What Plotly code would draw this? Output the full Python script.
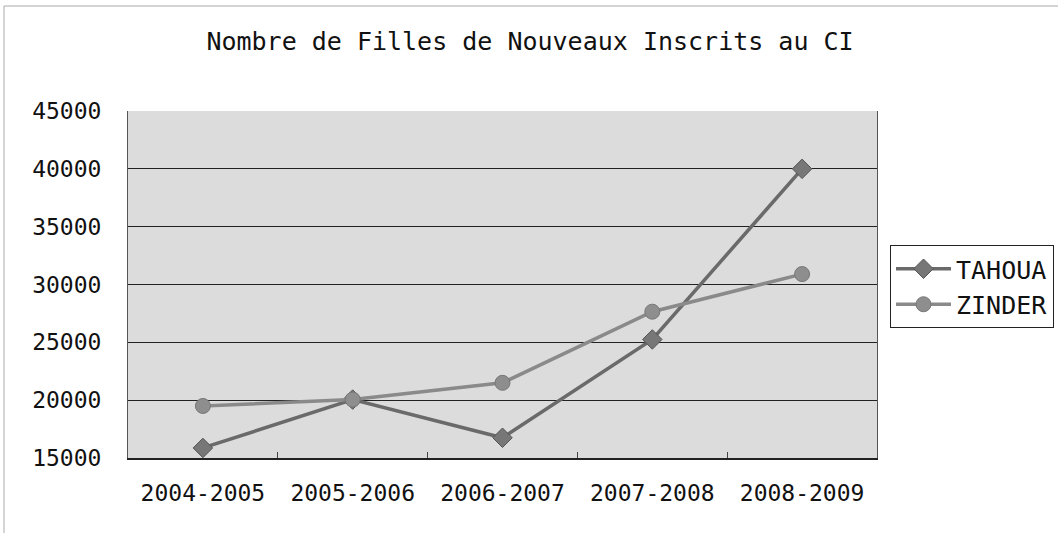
import plotly.graph_objects as go

categories = ["2004-2005", "2005-2006", "2006-2007", "2007-2008", "2008-2009"]
tahoua = [15870, 20050, 16750, 25250, 40000]
zinder = [19500, 20050, 21500, 27650, 30900]
y_ticks = [15000, 20000, 25000, 30000, 35000, 40000, 45000]

FONT = "DejaVu Sans Mono, Liberation Mono, monospace"

W, H = 1058, 533
L, R, T, B = 128, 877, 111, 458

fig = go.Figure()
fig.add_trace(go.Scatter(
    x=categories, y=tahoua, name="TAHOUA", mode="lines+markers",
    line=dict(color="#6a6a6a", width=3.5),
    marker=dict(symbol="diamond", size=15, color="#777777", line=dict(color="#555555", width=1)),
))
fig.add_trace(go.Scatter(
    x=categories, y=zinder, name="ZINDER", mode="lines+markers",
    line=dict(color="#8a8a8a", width=3.5),
    marker=dict(symbol="circle", size=15, color="#8e8e8e", line=dict(color="#777777", width=1)),
))

pw = R - L
ph = B - T

def px_x(p):
    return (p - L) / pw

def px_y(p):
    return (B - p) / ph

fig.add_shape(type="rect", xref="paper", yref="paper",
              x0=px_x(4), x1=px_x(1060), y0=px_y(540), y1=px_y(6),
              line=dict(color="#aaaaaa", width=1), layer="below")

fig.update_layout(
    width=W, height=H,
    margin=dict(l=L, r=W - R, t=T, b=H - B, autoexpand=False),
    paper_bgcolor="white",
    plot_bgcolor="#dcdcdc",
    title=dict(text="Nombre de Filles de Nouveaux Inscrits au CI",
               x=530 / W, xanchor="center", y=1 - 41 / H, yanchor="middle",
               font=dict(family=FONT, size=25, color="#111111")),
    font=dict(family=FONT, size=23, color="#111111"),
    showlegend=True,
    legend=dict(x=px_x(890), xanchor="left", y=px_y(245), yanchor="top",
                bordercolor="#222222", borderwidth=1, bgcolor="white",
                font=dict(family=FONT, size=25, color="#111111"),
                itemwidth=55, tracegroupgap=0),
    xaxis=dict(
        type="category", showgrid=False, showline=True, linecolor="#222222", linewidth=1.5,
        mirror=False, ticks="inside", tickson="boundaries", ticklen=6, tickcolor="#444444",
        tickfont=dict(family=FONT, size=23, color="#111111"), ticklabelstandoff=14,
        range=[-0.5, 4.5], automargin=False,
    ),
    yaxis=dict(
        range=[15000, 45000], tickvals=y_ticks, ticktext=[str(v) for v in y_ticks],
        showgrid=True, gridcolor="#222222", gridwidth=1,
        showline=True, linecolor="#555555", linewidth=1, mirror=True,
        ticks="", tickfont=dict(family=FONT, size=23, color="#111111"),
        ticklabelstandoff=21, zeroline=False, automargin=False,
    ),
)

fig.write_html("out.html", config={"displayModeBar": False},
               post_script="document.body.style.margin='0';document.body.style.overflow='hidden';")
